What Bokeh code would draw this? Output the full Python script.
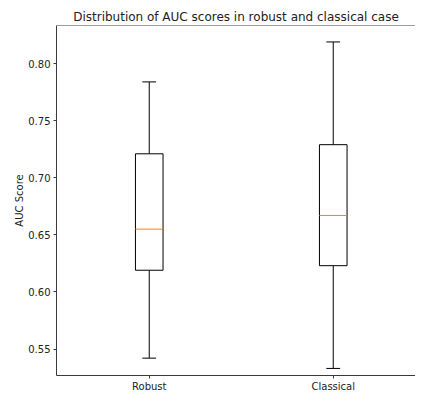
from bokeh.plotting import figure
from bokeh.models import Range1d, FixedTicker, Span
from bokeh.embed import file_html
from bokeh.resources import INLINE

categories = ["Robust", "Classical"]
whisker_low = [0.542, 0.533]
q1 = [0.619, 0.623]
median = [0.655, 0.667]
q3 = [0.721, 0.729]
whisker_high = [0.784, 0.819]
y_ticks = [0.55, 0.60, 0.65, 0.70, 0.75, 0.80]

positions = [i + 1 for i in range(len(categories))]
box_w = 0.15
cap_w = 0.075
y_lo, y_hi = 0.5268, 0.8334

FONT = "DejaVu Sans"
SPINE = "#3a3a3a"

p = figure(width=415, height=394, output_backend="svg", toolbar_location=None,
           x_range=Range1d(0.496, 2.447), y_range=Range1d(y_lo, y_hi),
           title="Distribution of AUC scores in robust and classical case",
           min_border_left=56, min_border_right=0, min_border_top=25, min_border_bottom=0)

p.title.text_font = FONT
p.title.text_font_size = "12px"
p.title.text_font_style = "normal"
p.title.text_color = "#222222"
p.title.align = "center"
p.title.standoff = 3

p.grid.visible = False
p.outline_line_color = None
p.background_fill_color = "white"
p.border_fill_color = "white"

# whiskers
p.segment(x0=positions, y0=q3, x1=positions, y1=whisker_high, line_color="black", line_width=1)
p.segment(x0=positions, y0=q1, x1=positions, y1=whisker_low, line_color="black", line_width=1)
# caps
p.segment(x0=[x - cap_w / 2 for x in positions], y0=whisker_high,
          x1=[x + cap_w / 2 for x in positions], y1=whisker_high, line_color="black", line_width=1)
p.segment(x0=[x - cap_w / 2 for x in positions], y0=whisker_low,
          x1=[x + cap_w / 2 for x in positions], y1=whisker_low, line_color="black", line_width=1)
# boxes
p.quad(left=[x - box_w / 2 for x in positions], right=[x + box_w / 2 for x in positions],
       bottom=q1, top=q3, fill_color="white", line_color="black", line_width=1)
# medians
p.segment(x0=[x - box_w / 2 for x in positions], y0=median,
          x1=[x + box_w / 2 for x in positions], y1=median, line_color="#ff7f0e", line_width=1)

# top spine
p.add_layout(Span(location=y_hi, dimension="width", line_color=SPINE, line_width=1))

# axes
for ax in (p.xaxis[0], p.yaxis[0]):
    ax.axis_line_color = SPINE
    ax.major_tick_line_color = SPINE
    ax.minor_tick_line_color = None
    ax.major_tick_in = 0
    ax.major_tick_out = 3
    ax.major_label_text_font = FONT
    ax.major_label_text_font_size = "10px"
    ax.major_label_text_color = "#222222"
    ax.major_label_standoff = 3

p.xaxis.ticker = FixedTicker(ticks=positions)
p.xaxis.major_label_overrides = {pos: c for pos, c in zip(positions, categories)}
p.xaxis.major_label_standoff = 2

p.yaxis.ticker = FixedTicker(ticks=y_ticks)
p.yaxis.major_label_overrides = {t: f"{t:.2f}" for t in y_ticks}
p.yaxis.axis_label = "AUC Score"
p.yaxis.axis_label_text_font = FONT
p.yaxis.axis_label_text_font_size = "10px"
p.yaxis.axis_label_text_font_style = "normal"
p.yaxis.axis_label_text_color = "#222222"
p.yaxis.axis_label_standoff = 0

open("out.html", "w").write(file_html(p, INLINE))
